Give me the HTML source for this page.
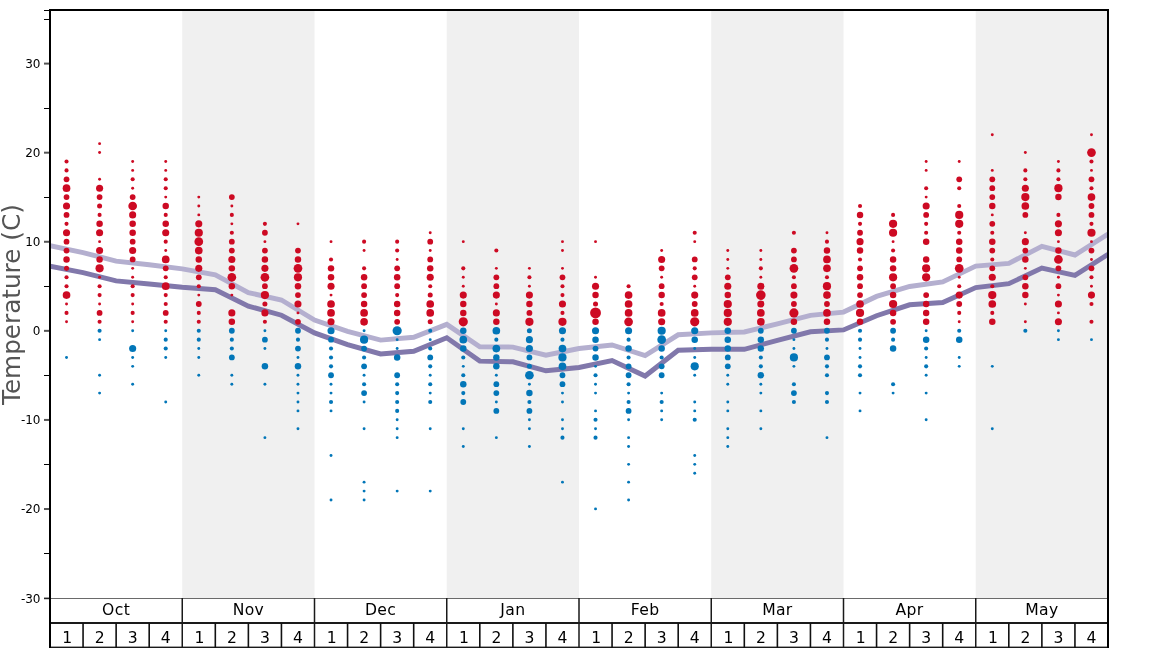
<!DOCTYPE html>
<html><head><meta charset="utf-8"><title>Temperature</title>
<style>html,body{margin:0;padding:0;background:#fff}body{width:1168px;height:648px;overflow:hidden}</style></head>
<body>
<svg width="1168" height="648" viewBox="0 0 1168 648" style="display:block" font-family="'DejaVu Sans', 'Liberation Sans', sans-serif">
<rect width="1168" height="648" fill="#fff"/>
<rect x="182.25" y="10.0" width="132.25" height="588.10" fill="#f0f0f0"/>
<rect x="446.75" y="10.0" width="132.25" height="588.10" fill="#f0f0f0"/>
<rect x="711.25" y="10.0" width="132.25" height="588.10" fill="#f0f0f0"/>
<rect x="975.75" y="10.0" width="132.25" height="588.10" fill="#f0f0f0"/>
<clipPath id="c"><rect x="50" y="10" width="1058" height="588.1"/></clipPath>
<polyline clip-path="url(#c)" points="50.00,245.6 83.06,252.6 116.12,261.1 149.19,264.8 182.25,268.9 215.31,274.9 248.38,292.6 281.44,300.0 314.50,320.0 347.56,331.4 380.62,340.1 413.69,337.3 446.75,324.4 479.81,346.7 512.88,347.1 545.94,355.2 579.00,348.5 612.06,345.0 645.12,355.5 678.19,334.8 711.25,332.9 744.31,332.0 777.38,323.9 810.44,315.4 843.50,312.1 876.56,296.4 909.62,286.5 942.69,281.9 975.75,266.1 1008.81,263.4 1041.88,246.3 1074.94,255.0 1108.00,234.0" fill="none" stroke="#b4afcf" stroke-width="4.95" stroke-linejoin="miter" stroke-linecap="butt"/>
<polyline clip-path="url(#c)" points="50.00,266.2 83.06,272.6 116.12,280.9 149.19,284.0 182.25,287.3 215.31,289.8 248.38,306.1 281.44,315.2 314.50,332.9 347.56,344.6 380.62,354.0 413.69,351.2 446.75,337.8 479.81,361.1 512.88,361.8 545.94,370.8 579.00,367.5 612.06,360.5 645.12,376.0 678.19,350.3 711.25,349.2 744.31,349.3 777.38,340.3 810.44,331.8 843.50,329.9 876.56,315.7 909.62,304.8 942.69,302.5 975.75,287.6 1008.81,283.7 1041.88,268.1 1074.94,275.3 1108.00,254.4" fill="none" stroke="#8178ab" stroke-width="4.95" stroke-linejoin="miter" stroke-linecap="butt"/>
<g fill="#cd0a23">
<circle cx="66.53" cy="161.47" r="2.05"/>
<circle cx="66.53" cy="170.38" r="2.05"/>
<circle cx="66.53" cy="179.29" r="2.90"/>
<circle cx="66.53" cy="188.20" r="3.84"/>
<circle cx="66.53" cy="197.11" r="2.90"/>
<circle cx="66.53" cy="206.01" r="3.55"/>
<circle cx="66.53" cy="214.92" r="2.90"/>
<circle cx="66.53" cy="223.83" r="2.05"/>
<circle cx="66.53" cy="232.74" r="3.55"/>
<circle cx="66.53" cy="241.65" r="2.90"/>
<circle cx="66.53" cy="250.56" r="2.90"/>
<circle cx="66.53" cy="259.46" r="3.24"/>
<circle cx="66.53" cy="268.37" r="2.51"/>
<circle cx="66.53" cy="277.28" r="2.05"/>
<circle cx="66.53" cy="286.19" r="2.05"/>
<circle cx="66.53" cy="295.10" r="3.84"/>
<circle cx="66.53" cy="304.00" r="1.45"/>
<circle cx="66.53" cy="312.91" r="2.05"/>
<circle cx="66.53" cy="321.82" r="1.45"/>
<circle cx="99.59" cy="143.66" r="1.45"/>
<circle cx="99.59" cy="152.56" r="1.45"/>
<circle cx="99.59" cy="179.29" r="1.45"/>
<circle cx="99.59" cy="188.20" r="3.55"/>
<circle cx="99.59" cy="197.11" r="2.90"/>
<circle cx="99.59" cy="206.01" r="2.51"/>
<circle cx="99.59" cy="214.92" r="2.05"/>
<circle cx="99.59" cy="223.83" r="3.24"/>
<circle cx="99.59" cy="232.74" r="3.55"/>
<circle cx="99.59" cy="241.65" r="1.45"/>
<circle cx="99.59" cy="250.56" r="3.55"/>
<circle cx="99.59" cy="259.46" r="3.24"/>
<circle cx="99.59" cy="268.37" r="4.10"/>
<circle cx="99.59" cy="277.28" r="1.45"/>
<circle cx="99.59" cy="286.19" r="2.05"/>
<circle cx="99.59" cy="295.10" r="2.05"/>
<circle cx="99.59" cy="304.00" r="1.45"/>
<circle cx="99.59" cy="312.91" r="2.90"/>
<circle cx="99.59" cy="321.82" r="2.05"/>
<circle cx="132.66" cy="161.47" r="1.45"/>
<circle cx="132.66" cy="170.38" r="1.45"/>
<circle cx="132.66" cy="179.29" r="2.05"/>
<circle cx="132.66" cy="188.20" r="1.45"/>
<circle cx="132.66" cy="197.11" r="2.90"/>
<circle cx="132.66" cy="206.01" r="4.35"/>
<circle cx="132.66" cy="214.92" r="3.55"/>
<circle cx="132.66" cy="223.83" r="3.24"/>
<circle cx="132.66" cy="232.74" r="3.24"/>
<circle cx="132.66" cy="241.65" r="2.90"/>
<circle cx="132.66" cy="250.56" r="3.55"/>
<circle cx="132.66" cy="259.46" r="2.90"/>
<circle cx="132.66" cy="268.37" r="1.45"/>
<circle cx="132.66" cy="277.28" r="1.45"/>
<circle cx="132.66" cy="286.19" r="2.05"/>
<circle cx="132.66" cy="295.10" r="2.05"/>
<circle cx="132.66" cy="304.00" r="1.45"/>
<circle cx="132.66" cy="312.91" r="2.05"/>
<circle cx="132.66" cy="321.82" r="1.45"/>
<circle cx="165.72" cy="161.47" r="1.45"/>
<circle cx="165.72" cy="170.38" r="1.45"/>
<circle cx="165.72" cy="179.29" r="2.05"/>
<circle cx="165.72" cy="188.20" r="2.05"/>
<circle cx="165.72" cy="197.11" r="1.45"/>
<circle cx="165.72" cy="206.01" r="3.24"/>
<circle cx="165.72" cy="214.92" r="2.05"/>
<circle cx="165.72" cy="223.83" r="3.24"/>
<circle cx="165.72" cy="232.74" r="3.55"/>
<circle cx="165.72" cy="241.65" r="2.05"/>
<circle cx="165.72" cy="250.56" r="1.45"/>
<circle cx="165.72" cy="259.46" r="3.84"/>
<circle cx="165.72" cy="268.37" r="2.90"/>
<circle cx="165.72" cy="277.28" r="2.05"/>
<circle cx="165.72" cy="286.19" r="3.84"/>
<circle cx="165.72" cy="295.10" r="2.05"/>
<circle cx="165.72" cy="304.00" r="2.05"/>
<circle cx="165.72" cy="312.91" r="2.90"/>
<circle cx="165.72" cy="321.82" r="2.05"/>
<circle cx="198.78" cy="197.11" r="1.45"/>
<circle cx="198.78" cy="206.01" r="1.45"/>
<circle cx="198.78" cy="214.92" r="1.45"/>
<circle cx="198.78" cy="223.83" r="3.55"/>
<circle cx="198.78" cy="232.74" r="4.10"/>
<circle cx="198.78" cy="241.65" r="4.35"/>
<circle cx="198.78" cy="250.56" r="3.84"/>
<circle cx="198.78" cy="259.46" r="3.24"/>
<circle cx="198.78" cy="268.37" r="3.55"/>
<circle cx="198.78" cy="277.28" r="2.90"/>
<circle cx="198.78" cy="286.19" r="2.05"/>
<circle cx="198.78" cy="295.10" r="1.45"/>
<circle cx="198.78" cy="304.00" r="2.90"/>
<circle cx="198.78" cy="312.91" r="2.05"/>
<circle cx="198.78" cy="321.82" r="2.05"/>
<circle cx="231.84" cy="197.11" r="2.90"/>
<circle cx="231.84" cy="206.01" r="1.45"/>
<circle cx="231.84" cy="214.92" r="2.05"/>
<circle cx="231.84" cy="223.83" r="1.45"/>
<circle cx="231.84" cy="232.74" r="2.05"/>
<circle cx="231.84" cy="241.65" r="2.90"/>
<circle cx="231.84" cy="250.56" r="2.90"/>
<circle cx="231.84" cy="259.46" r="3.55"/>
<circle cx="231.84" cy="268.37" r="3.24"/>
<circle cx="231.84" cy="277.28" r="4.35"/>
<circle cx="231.84" cy="286.19" r="3.24"/>
<circle cx="231.84" cy="295.10" r="1.45"/>
<circle cx="231.84" cy="312.91" r="3.55"/>
<circle cx="231.84" cy="321.82" r="3.24"/>
<circle cx="264.91" cy="223.83" r="2.05"/>
<circle cx="264.91" cy="232.74" r="2.90"/>
<circle cx="264.91" cy="241.65" r="1.45"/>
<circle cx="264.91" cy="250.56" r="2.90"/>
<circle cx="264.91" cy="259.46" r="3.24"/>
<circle cx="264.91" cy="268.37" r="3.55"/>
<circle cx="264.91" cy="277.28" r="4.35"/>
<circle cx="264.91" cy="286.19" r="2.90"/>
<circle cx="264.91" cy="295.10" r="4.10"/>
<circle cx="264.91" cy="304.00" r="2.51"/>
<circle cx="264.91" cy="312.91" r="3.55"/>
<circle cx="264.91" cy="321.82" r="2.05"/>
<circle cx="297.97" cy="223.83" r="1.45"/>
<circle cx="297.97" cy="250.56" r="2.90"/>
<circle cx="297.97" cy="259.46" r="3.24"/>
<circle cx="297.97" cy="268.37" r="4.35"/>
<circle cx="297.97" cy="277.28" r="4.10"/>
<circle cx="297.97" cy="286.19" r="3.24"/>
<circle cx="297.97" cy="295.10" r="2.90"/>
<circle cx="297.97" cy="304.00" r="3.55"/>
<circle cx="297.97" cy="312.91" r="1.45"/>
<circle cx="297.97" cy="321.82" r="2.90"/>
<circle cx="331.03" cy="241.65" r="1.45"/>
<circle cx="331.03" cy="259.46" r="2.05"/>
<circle cx="331.03" cy="268.37" r="3.24"/>
<circle cx="331.03" cy="277.28" r="3.24"/>
<circle cx="331.03" cy="286.19" r="3.55"/>
<circle cx="331.03" cy="295.10" r="1.45"/>
<circle cx="331.03" cy="304.00" r="3.84"/>
<circle cx="331.03" cy="312.91" r="3.84"/>
<circle cx="331.03" cy="321.82" r="3.55"/>
<circle cx="364.09" cy="241.65" r="2.05"/>
<circle cx="364.09" cy="250.56" r="1.45"/>
<circle cx="364.09" cy="268.37" r="2.05"/>
<circle cx="364.09" cy="277.28" r="3.24"/>
<circle cx="364.09" cy="286.19" r="2.90"/>
<circle cx="364.09" cy="295.10" r="2.90"/>
<circle cx="364.09" cy="304.00" r="3.24"/>
<circle cx="364.09" cy="312.91" r="3.84"/>
<circle cx="364.09" cy="321.82" r="3.84"/>
<circle cx="397.16" cy="241.65" r="2.05"/>
<circle cx="397.16" cy="250.56" r="2.05"/>
<circle cx="397.16" cy="259.46" r="1.45"/>
<circle cx="397.16" cy="268.37" r="2.90"/>
<circle cx="397.16" cy="277.28" r="3.24"/>
<circle cx="397.16" cy="286.19" r="2.90"/>
<circle cx="397.16" cy="295.10" r="2.05"/>
<circle cx="397.16" cy="304.00" r="3.24"/>
<circle cx="397.16" cy="312.91" r="3.24"/>
<circle cx="397.16" cy="321.82" r="2.90"/>
<circle cx="430.22" cy="232.74" r="1.45"/>
<circle cx="430.22" cy="241.65" r="2.90"/>
<circle cx="430.22" cy="250.56" r="1.45"/>
<circle cx="430.22" cy="259.46" r="2.90"/>
<circle cx="430.22" cy="268.37" r="3.24"/>
<circle cx="430.22" cy="277.28" r="3.55"/>
<circle cx="430.22" cy="286.19" r="2.05"/>
<circle cx="430.22" cy="295.10" r="2.51"/>
<circle cx="430.22" cy="304.00" r="3.84"/>
<circle cx="430.22" cy="312.91" r="3.84"/>
<circle cx="430.22" cy="321.82" r="2.51"/>
<circle cx="463.28" cy="241.65" r="1.45"/>
<circle cx="463.28" cy="268.37" r="2.05"/>
<circle cx="463.28" cy="277.28" r="1.45"/>
<circle cx="463.28" cy="286.19" r="1.45"/>
<circle cx="463.28" cy="295.10" r="3.55"/>
<circle cx="463.28" cy="304.00" r="3.24"/>
<circle cx="463.28" cy="312.91" r="3.24"/>
<circle cx="463.28" cy="321.82" r="4.59"/>
<circle cx="496.34" cy="250.56" r="2.05"/>
<circle cx="496.34" cy="268.37" r="1.45"/>
<circle cx="496.34" cy="277.28" r="2.90"/>
<circle cx="496.34" cy="286.19" r="2.90"/>
<circle cx="496.34" cy="295.10" r="3.55"/>
<circle cx="496.34" cy="304.00" r="1.45"/>
<circle cx="496.34" cy="312.91" r="3.55"/>
<circle cx="496.34" cy="321.82" r="3.24"/>
<circle cx="529.41" cy="268.37" r="1.45"/>
<circle cx="529.41" cy="277.28" r="2.05"/>
<circle cx="529.41" cy="286.19" r="1.45"/>
<circle cx="529.41" cy="295.10" r="3.55"/>
<circle cx="529.41" cy="304.00" r="3.24"/>
<circle cx="529.41" cy="312.91" r="2.90"/>
<circle cx="529.41" cy="321.82" r="4.10"/>
<circle cx="562.47" cy="241.65" r="1.45"/>
<circle cx="562.47" cy="250.56" r="1.45"/>
<circle cx="562.47" cy="268.37" r="1.45"/>
<circle cx="562.47" cy="277.28" r="2.90"/>
<circle cx="562.47" cy="286.19" r="2.05"/>
<circle cx="562.47" cy="295.10" r="2.05"/>
<circle cx="562.47" cy="304.00" r="3.55"/>
<circle cx="562.47" cy="312.91" r="2.05"/>
<circle cx="562.47" cy="321.82" r="4.10"/>
<circle cx="595.53" cy="241.65" r="1.45"/>
<circle cx="595.53" cy="277.28" r="1.45"/>
<circle cx="595.53" cy="286.19" r="3.55"/>
<circle cx="595.53" cy="295.10" r="3.24"/>
<circle cx="595.53" cy="304.00" r="2.51"/>
<circle cx="595.53" cy="312.91" r="5.43"/>
<circle cx="595.53" cy="321.82" r="3.24"/>
<circle cx="628.59" cy="286.19" r="2.05"/>
<circle cx="628.59" cy="295.10" r="3.84"/>
<circle cx="628.59" cy="304.00" r="3.84"/>
<circle cx="628.59" cy="312.91" r="3.84"/>
<circle cx="628.59" cy="321.82" r="4.35"/>
<circle cx="661.66" cy="250.56" r="1.45"/>
<circle cx="661.66" cy="259.46" r="3.55"/>
<circle cx="661.66" cy="268.37" r="2.90"/>
<circle cx="661.66" cy="277.28" r="1.45"/>
<circle cx="661.66" cy="286.19" r="2.90"/>
<circle cx="661.66" cy="295.10" r="3.24"/>
<circle cx="661.66" cy="304.00" r="2.05"/>
<circle cx="661.66" cy="312.91" r="3.84"/>
<circle cx="661.66" cy="321.82" r="3.55"/>
<circle cx="694.72" cy="232.74" r="2.05"/>
<circle cx="694.72" cy="241.65" r="1.45"/>
<circle cx="694.72" cy="259.46" r="2.90"/>
<circle cx="694.72" cy="268.37" r="2.05"/>
<circle cx="694.72" cy="277.28" r="2.90"/>
<circle cx="694.72" cy="286.19" r="1.45"/>
<circle cx="694.72" cy="295.10" r="3.55"/>
<circle cx="694.72" cy="304.00" r="2.90"/>
<circle cx="694.72" cy="312.91" r="3.84"/>
<circle cx="694.72" cy="321.82" r="4.59"/>
<circle cx="727.78" cy="250.56" r="1.45"/>
<circle cx="727.78" cy="259.46" r="1.45"/>
<circle cx="727.78" cy="268.37" r="1.45"/>
<circle cx="727.78" cy="277.28" r="2.90"/>
<circle cx="727.78" cy="286.19" r="3.55"/>
<circle cx="727.78" cy="295.10" r="3.24"/>
<circle cx="727.78" cy="304.00" r="4.10"/>
<circle cx="727.78" cy="312.91" r="4.10"/>
<circle cx="727.78" cy="321.82" r="4.10"/>
<circle cx="760.84" cy="250.56" r="1.45"/>
<circle cx="760.84" cy="259.46" r="1.45"/>
<circle cx="760.84" cy="268.37" r="2.05"/>
<circle cx="760.84" cy="277.28" r="1.45"/>
<circle cx="760.84" cy="286.19" r="3.55"/>
<circle cx="760.84" cy="295.10" r="4.81"/>
<circle cx="760.84" cy="304.00" r="3.55"/>
<circle cx="760.84" cy="312.91" r="3.84"/>
<circle cx="760.84" cy="321.82" r="3.84"/>
<circle cx="793.91" cy="232.74" r="2.05"/>
<circle cx="793.91" cy="250.56" r="2.90"/>
<circle cx="793.91" cy="259.46" r="2.90"/>
<circle cx="793.91" cy="268.37" r="4.35"/>
<circle cx="793.91" cy="277.28" r="2.05"/>
<circle cx="793.91" cy="286.19" r="2.90"/>
<circle cx="793.91" cy="295.10" r="3.55"/>
<circle cx="793.91" cy="304.00" r="2.90"/>
<circle cx="793.91" cy="312.91" r="4.59"/>
<circle cx="793.91" cy="321.82" r="3.24"/>
<circle cx="826.97" cy="232.74" r="1.45"/>
<circle cx="826.97" cy="241.65" r="2.05"/>
<circle cx="826.97" cy="250.56" r="3.24"/>
<circle cx="826.97" cy="259.46" r="3.84"/>
<circle cx="826.97" cy="268.37" r="3.84"/>
<circle cx="826.97" cy="277.28" r="2.05"/>
<circle cx="826.97" cy="286.19" r="4.10"/>
<circle cx="826.97" cy="295.10" r="3.84"/>
<circle cx="826.97" cy="304.00" r="2.90"/>
<circle cx="826.97" cy="312.91" r="3.84"/>
<circle cx="826.97" cy="321.82" r="3.24"/>
<circle cx="860.03" cy="206.01" r="2.05"/>
<circle cx="860.03" cy="214.92" r="3.24"/>
<circle cx="860.03" cy="223.83" r="2.05"/>
<circle cx="860.03" cy="232.74" r="2.90"/>
<circle cx="860.03" cy="241.65" r="3.55"/>
<circle cx="860.03" cy="250.56" r="3.24"/>
<circle cx="860.03" cy="259.46" r="2.05"/>
<circle cx="860.03" cy="268.37" r="2.90"/>
<circle cx="860.03" cy="277.28" r="3.24"/>
<circle cx="860.03" cy="286.19" r="2.90"/>
<circle cx="860.03" cy="295.10" r="2.90"/>
<circle cx="860.03" cy="304.00" r="3.84"/>
<circle cx="860.03" cy="312.91" r="4.10"/>
<circle cx="860.03" cy="321.82" r="3.24"/>
<circle cx="893.09" cy="214.92" r="2.05"/>
<circle cx="893.09" cy="223.83" r="4.10"/>
<circle cx="893.09" cy="232.74" r="4.10"/>
<circle cx="893.09" cy="241.65" r="1.45"/>
<circle cx="893.09" cy="250.56" r="2.05"/>
<circle cx="893.09" cy="259.46" r="3.24"/>
<circle cx="893.09" cy="268.37" r="3.24"/>
<circle cx="893.09" cy="277.28" r="4.10"/>
<circle cx="893.09" cy="286.19" r="2.90"/>
<circle cx="893.09" cy="295.10" r="3.24"/>
<circle cx="893.09" cy="304.00" r="4.10"/>
<circle cx="893.09" cy="312.91" r="3.24"/>
<circle cx="893.09" cy="321.82" r="2.90"/>
<circle cx="926.16" cy="161.47" r="1.45"/>
<circle cx="926.16" cy="170.38" r="1.45"/>
<circle cx="926.16" cy="188.20" r="2.05"/>
<circle cx="926.16" cy="197.11" r="1.45"/>
<circle cx="926.16" cy="206.01" r="3.55"/>
<circle cx="926.16" cy="214.92" r="2.90"/>
<circle cx="926.16" cy="223.83" r="2.05"/>
<circle cx="926.16" cy="232.74" r="2.05"/>
<circle cx="926.16" cy="241.65" r="3.24"/>
<circle cx="926.16" cy="259.46" r="3.24"/>
<circle cx="926.16" cy="268.37" r="4.10"/>
<circle cx="926.16" cy="277.28" r="4.10"/>
<circle cx="926.16" cy="295.10" r="2.90"/>
<circle cx="926.16" cy="304.00" r="3.24"/>
<circle cx="926.16" cy="312.91" r="3.24"/>
<circle cx="926.16" cy="321.82" r="3.24"/>
<circle cx="959.22" cy="161.47" r="1.45"/>
<circle cx="959.22" cy="179.29" r="2.90"/>
<circle cx="959.22" cy="188.20" r="2.05"/>
<circle cx="959.22" cy="206.01" r="2.05"/>
<circle cx="959.22" cy="214.92" r="4.10"/>
<circle cx="959.22" cy="223.83" r="4.10"/>
<circle cx="959.22" cy="232.74" r="2.05"/>
<circle cx="959.22" cy="241.65" r="3.24"/>
<circle cx="959.22" cy="250.56" r="3.24"/>
<circle cx="959.22" cy="259.46" r="2.90"/>
<circle cx="959.22" cy="268.37" r="4.35"/>
<circle cx="959.22" cy="277.28" r="1.45"/>
<circle cx="959.22" cy="286.19" r="2.05"/>
<circle cx="959.22" cy="295.10" r="3.55"/>
<circle cx="959.22" cy="304.00" r="2.90"/>
<circle cx="959.22" cy="312.91" r="2.05"/>
<circle cx="959.22" cy="321.82" r="1.45"/>
<circle cx="992.28" cy="134.75" r="1.45"/>
<circle cx="992.28" cy="170.38" r="1.45"/>
<circle cx="992.28" cy="179.29" r="2.90"/>
<circle cx="992.28" cy="188.20" r="2.90"/>
<circle cx="992.28" cy="197.11" r="2.90"/>
<circle cx="992.28" cy="206.01" r="3.24"/>
<circle cx="992.28" cy="214.92" r="1.45"/>
<circle cx="992.28" cy="223.83" r="2.90"/>
<circle cx="992.28" cy="232.74" r="2.05"/>
<circle cx="992.28" cy="241.65" r="3.24"/>
<circle cx="992.28" cy="250.56" r="2.90"/>
<circle cx="992.28" cy="259.46" r="2.05"/>
<circle cx="992.28" cy="268.37" r="2.90"/>
<circle cx="992.28" cy="277.28" r="3.55"/>
<circle cx="992.28" cy="286.19" r="2.05"/>
<circle cx="992.28" cy="295.10" r="4.10"/>
<circle cx="992.28" cy="304.00" r="3.84"/>
<circle cx="992.28" cy="312.91" r="2.05"/>
<circle cx="992.28" cy="321.82" r="3.24"/>
<circle cx="1025.34" cy="152.56" r="1.45"/>
<circle cx="1025.34" cy="170.38" r="2.05"/>
<circle cx="1025.34" cy="179.29" r="2.05"/>
<circle cx="1025.34" cy="188.20" r="3.55"/>
<circle cx="1025.34" cy="197.11" r="4.10"/>
<circle cx="1025.34" cy="206.01" r="3.84"/>
<circle cx="1025.34" cy="214.92" r="2.90"/>
<circle cx="1025.34" cy="232.74" r="1.45"/>
<circle cx="1025.34" cy="241.65" r="3.55"/>
<circle cx="1025.34" cy="250.56" r="2.90"/>
<circle cx="1025.34" cy="259.46" r="3.24"/>
<circle cx="1025.34" cy="268.37" r="1.45"/>
<circle cx="1025.34" cy="277.28" r="2.90"/>
<circle cx="1025.34" cy="286.19" r="3.24"/>
<circle cx="1025.34" cy="295.10" r="3.24"/>
<circle cx="1025.34" cy="304.00" r="1.45"/>
<circle cx="1025.34" cy="321.82" r="1.45"/>
<circle cx="1058.41" cy="161.47" r="1.45"/>
<circle cx="1058.41" cy="170.38" r="2.05"/>
<circle cx="1058.41" cy="179.29" r="2.05"/>
<circle cx="1058.41" cy="188.20" r="4.10"/>
<circle cx="1058.41" cy="197.11" r="3.24"/>
<circle cx="1058.41" cy="214.92" r="2.05"/>
<circle cx="1058.41" cy="223.83" r="3.55"/>
<circle cx="1058.41" cy="232.74" r="3.55"/>
<circle cx="1058.41" cy="241.65" r="1.45"/>
<circle cx="1058.41" cy="250.56" r="3.24"/>
<circle cx="1058.41" cy="259.46" r="4.35"/>
<circle cx="1058.41" cy="268.37" r="2.90"/>
<circle cx="1058.41" cy="277.28" r="1.45"/>
<circle cx="1058.41" cy="286.19" r="2.90"/>
<circle cx="1058.41" cy="295.10" r="1.45"/>
<circle cx="1058.41" cy="304.00" r="3.55"/>
<circle cx="1058.41" cy="312.91" r="1.45"/>
<circle cx="1058.41" cy="321.82" r="3.55"/>
<circle cx="1091.47" cy="134.75" r="1.45"/>
<circle cx="1091.47" cy="152.56" r="4.35"/>
<circle cx="1091.47" cy="161.47" r="2.05"/>
<circle cx="1091.47" cy="170.38" r="1.45"/>
<circle cx="1091.47" cy="179.29" r="2.90"/>
<circle cx="1091.47" cy="188.20" r="2.05"/>
<circle cx="1091.47" cy="197.11" r="3.84"/>
<circle cx="1091.47" cy="206.01" r="2.90"/>
<circle cx="1091.47" cy="214.92" r="2.90"/>
<circle cx="1091.47" cy="223.83" r="2.05"/>
<circle cx="1091.47" cy="232.74" r="4.10"/>
<circle cx="1091.47" cy="241.65" r="1.45"/>
<circle cx="1091.47" cy="250.56" r="2.90"/>
<circle cx="1091.47" cy="259.46" r="1.45"/>
<circle cx="1091.47" cy="268.37" r="2.90"/>
<circle cx="1091.47" cy="277.28" r="2.05"/>
<circle cx="1091.47" cy="286.19" r="1.45"/>
<circle cx="1091.47" cy="295.10" r="3.55"/>
<circle cx="1091.47" cy="304.00" r="2.05"/>
<circle cx="1091.47" cy="321.82" r="2.05"/>
</g>
<g fill="#0276b8">
<circle cx="66.53" cy="357.46" r="1.45"/>
<circle cx="99.59" cy="330.73" r="2.05"/>
<circle cx="99.59" cy="339.64" r="1.45"/>
<circle cx="99.59" cy="375.27" r="1.45"/>
<circle cx="99.59" cy="393.09" r="1.45"/>
<circle cx="132.66" cy="330.73" r="1.45"/>
<circle cx="132.66" cy="348.55" r="3.55"/>
<circle cx="132.66" cy="357.46" r="1.45"/>
<circle cx="132.66" cy="366.36" r="1.45"/>
<circle cx="132.66" cy="384.18" r="1.45"/>
<circle cx="165.72" cy="330.73" r="1.45"/>
<circle cx="165.72" cy="339.64" r="2.05"/>
<circle cx="165.72" cy="348.55" r="2.05"/>
<circle cx="165.72" cy="357.46" r="1.45"/>
<circle cx="165.72" cy="402.00" r="1.45"/>
<circle cx="198.78" cy="330.73" r="2.05"/>
<circle cx="198.78" cy="339.64" r="2.05"/>
<circle cx="198.78" cy="348.55" r="1.45"/>
<circle cx="198.78" cy="357.46" r="1.45"/>
<circle cx="198.78" cy="375.27" r="1.45"/>
<circle cx="231.84" cy="330.73" r="2.90"/>
<circle cx="231.84" cy="339.64" r="2.05"/>
<circle cx="231.84" cy="348.55" r="2.05"/>
<circle cx="231.84" cy="357.46" r="2.90"/>
<circle cx="231.84" cy="375.27" r="1.45"/>
<circle cx="231.84" cy="384.18" r="1.45"/>
<circle cx="264.91" cy="330.73" r="1.45"/>
<circle cx="264.91" cy="339.64" r="2.90"/>
<circle cx="264.91" cy="348.55" r="1.45"/>
<circle cx="264.91" cy="366.36" r="3.24"/>
<circle cx="264.91" cy="384.18" r="1.45"/>
<circle cx="264.91" cy="437.63" r="1.45"/>
<circle cx="297.97" cy="330.73" r="2.90"/>
<circle cx="297.97" cy="339.64" r="2.05"/>
<circle cx="297.97" cy="348.55" r="2.90"/>
<circle cx="297.97" cy="357.46" r="1.45"/>
<circle cx="297.97" cy="366.36" r="3.24"/>
<circle cx="297.97" cy="375.27" r="1.45"/>
<circle cx="297.97" cy="384.18" r="1.45"/>
<circle cx="297.97" cy="393.09" r="1.45"/>
<circle cx="297.97" cy="402.00" r="1.45"/>
<circle cx="297.97" cy="410.91" r="1.45"/>
<circle cx="297.97" cy="428.72" r="1.45"/>
<circle cx="331.03" cy="330.73" r="3.55"/>
<circle cx="331.03" cy="339.64" r="2.90"/>
<circle cx="331.03" cy="348.55" r="2.05"/>
<circle cx="331.03" cy="357.46" r="2.05"/>
<circle cx="331.03" cy="366.36" r="2.05"/>
<circle cx="331.03" cy="375.27" r="2.90"/>
<circle cx="331.03" cy="384.18" r="1.45"/>
<circle cx="331.03" cy="393.09" r="1.45"/>
<circle cx="331.03" cy="402.00" r="2.05"/>
<circle cx="331.03" cy="410.91" r="1.45"/>
<circle cx="331.03" cy="455.45" r="1.45"/>
<circle cx="331.03" cy="499.99" r="1.45"/>
<circle cx="364.09" cy="330.73" r="1.45"/>
<circle cx="364.09" cy="339.64" r="4.10"/>
<circle cx="364.09" cy="348.55" r="2.90"/>
<circle cx="364.09" cy="357.46" r="2.05"/>
<circle cx="364.09" cy="366.36" r="2.90"/>
<circle cx="364.09" cy="375.27" r="1.45"/>
<circle cx="364.09" cy="384.18" r="2.05"/>
<circle cx="364.09" cy="393.09" r="2.90"/>
<circle cx="364.09" cy="402.00" r="1.45"/>
<circle cx="364.09" cy="428.72" r="1.45"/>
<circle cx="364.09" cy="482.17" r="1.45"/>
<circle cx="364.09" cy="491.08" r="1.45"/>
<circle cx="364.09" cy="499.99" r="1.45"/>
<circle cx="397.16" cy="330.73" r="4.59"/>
<circle cx="397.16" cy="339.64" r="1.45"/>
<circle cx="397.16" cy="348.55" r="1.45"/>
<circle cx="397.16" cy="357.46" r="3.24"/>
<circle cx="397.16" cy="375.27" r="2.90"/>
<circle cx="397.16" cy="384.18" r="2.05"/>
<circle cx="397.16" cy="393.09" r="2.05"/>
<circle cx="397.16" cy="402.00" r="2.05"/>
<circle cx="397.16" cy="410.91" r="2.05"/>
<circle cx="397.16" cy="419.81" r="1.45"/>
<circle cx="397.16" cy="428.72" r="1.45"/>
<circle cx="397.16" cy="437.63" r="1.45"/>
<circle cx="397.16" cy="491.08" r="1.45"/>
<circle cx="430.22" cy="330.73" r="2.05"/>
<circle cx="430.22" cy="339.64" r="1.45"/>
<circle cx="430.22" cy="348.55" r="2.05"/>
<circle cx="430.22" cy="357.46" r="2.90"/>
<circle cx="430.22" cy="366.36" r="2.05"/>
<circle cx="430.22" cy="375.27" r="1.45"/>
<circle cx="430.22" cy="384.18" r="2.05"/>
<circle cx="430.22" cy="393.09" r="1.45"/>
<circle cx="430.22" cy="402.00" r="2.05"/>
<circle cx="430.22" cy="428.72" r="1.45"/>
<circle cx="430.22" cy="491.08" r="1.45"/>
<circle cx="463.28" cy="330.73" r="3.24"/>
<circle cx="463.28" cy="339.64" r="3.84"/>
<circle cx="463.28" cy="348.55" r="3.24"/>
<circle cx="463.28" cy="357.46" r="2.05"/>
<circle cx="463.28" cy="366.36" r="1.45"/>
<circle cx="463.28" cy="375.27" r="2.05"/>
<circle cx="463.28" cy="384.18" r="3.24"/>
<circle cx="463.28" cy="393.09" r="2.05"/>
<circle cx="463.28" cy="402.00" r="2.90"/>
<circle cx="463.28" cy="428.72" r="1.45"/>
<circle cx="463.28" cy="446.54" r="1.45"/>
<circle cx="496.34" cy="330.73" r="3.84"/>
<circle cx="496.34" cy="339.64" r="2.05"/>
<circle cx="496.34" cy="348.55" r="3.84"/>
<circle cx="496.34" cy="357.46" r="3.24"/>
<circle cx="496.34" cy="366.36" r="3.24"/>
<circle cx="496.34" cy="375.27" r="1.45"/>
<circle cx="496.34" cy="384.18" r="2.90"/>
<circle cx="496.34" cy="393.09" r="2.90"/>
<circle cx="496.34" cy="402.00" r="1.45"/>
<circle cx="496.34" cy="410.91" r="2.90"/>
<circle cx="496.34" cy="437.63" r="1.45"/>
<circle cx="529.41" cy="330.73" r="2.51"/>
<circle cx="529.41" cy="339.64" r="3.55"/>
<circle cx="529.41" cy="348.55" r="3.55"/>
<circle cx="529.41" cy="357.46" r="2.90"/>
<circle cx="529.41" cy="366.36" r="2.51"/>
<circle cx="529.41" cy="375.27" r="4.35"/>
<circle cx="529.41" cy="384.18" r="1.45"/>
<circle cx="529.41" cy="393.09" r="3.24"/>
<circle cx="529.41" cy="402.00" r="2.05"/>
<circle cx="529.41" cy="410.91" r="2.90"/>
<circle cx="529.41" cy="419.81" r="1.45"/>
<circle cx="529.41" cy="428.72" r="1.45"/>
<circle cx="529.41" cy="446.54" r="1.45"/>
<circle cx="562.47" cy="330.73" r="3.55"/>
<circle cx="562.47" cy="339.64" r="2.05"/>
<circle cx="562.47" cy="348.55" r="3.84"/>
<circle cx="562.47" cy="357.46" r="4.10"/>
<circle cx="562.47" cy="366.36" r="3.84"/>
<circle cx="562.47" cy="375.27" r="2.90"/>
<circle cx="562.47" cy="384.18" r="2.90"/>
<circle cx="562.47" cy="393.09" r="1.45"/>
<circle cx="562.47" cy="402.00" r="1.45"/>
<circle cx="562.47" cy="419.81" r="1.45"/>
<circle cx="562.47" cy="428.72" r="1.45"/>
<circle cx="562.47" cy="437.63" r="2.05"/>
<circle cx="562.47" cy="482.17" r="1.45"/>
<circle cx="595.53" cy="330.73" r="3.55"/>
<circle cx="595.53" cy="339.64" r="3.24"/>
<circle cx="595.53" cy="348.55" r="2.90"/>
<circle cx="595.53" cy="357.46" r="3.24"/>
<circle cx="595.53" cy="366.36" r="1.45"/>
<circle cx="595.53" cy="375.27" r="2.05"/>
<circle cx="595.53" cy="384.18" r="1.45"/>
<circle cx="595.53" cy="393.09" r="1.45"/>
<circle cx="595.53" cy="410.91" r="1.45"/>
<circle cx="595.53" cy="419.81" r="2.05"/>
<circle cx="595.53" cy="428.72" r="1.45"/>
<circle cx="595.53" cy="437.63" r="2.05"/>
<circle cx="595.53" cy="508.90" r="1.45"/>
<circle cx="628.59" cy="330.73" r="3.55"/>
<circle cx="628.59" cy="339.64" r="2.05"/>
<circle cx="628.59" cy="348.55" r="3.24"/>
<circle cx="628.59" cy="357.46" r="2.05"/>
<circle cx="628.59" cy="366.36" r="2.90"/>
<circle cx="628.59" cy="375.27" r="2.90"/>
<circle cx="628.59" cy="384.18" r="2.05"/>
<circle cx="628.59" cy="393.09" r="1.45"/>
<circle cx="628.59" cy="402.00" r="2.05"/>
<circle cx="628.59" cy="410.91" r="2.90"/>
<circle cx="628.59" cy="419.81" r="1.45"/>
<circle cx="628.59" cy="437.63" r="1.45"/>
<circle cx="628.59" cy="446.54" r="1.45"/>
<circle cx="628.59" cy="464.36" r="1.45"/>
<circle cx="628.59" cy="482.17" r="1.45"/>
<circle cx="628.59" cy="499.99" r="1.45"/>
<circle cx="661.66" cy="330.73" r="4.10"/>
<circle cx="661.66" cy="339.64" r="4.35"/>
<circle cx="661.66" cy="348.55" r="3.24"/>
<circle cx="661.66" cy="357.46" r="2.05"/>
<circle cx="661.66" cy="366.36" r="2.90"/>
<circle cx="661.66" cy="375.27" r="2.90"/>
<circle cx="661.66" cy="393.09" r="1.45"/>
<circle cx="661.66" cy="402.00" r="2.05"/>
<circle cx="661.66" cy="410.91" r="1.45"/>
<circle cx="661.66" cy="419.81" r="1.45"/>
<circle cx="694.72" cy="330.73" r="3.55"/>
<circle cx="694.72" cy="339.64" r="3.24"/>
<circle cx="694.72" cy="348.55" r="1.45"/>
<circle cx="694.72" cy="357.46" r="1.45"/>
<circle cx="694.72" cy="366.36" r="4.10"/>
<circle cx="694.72" cy="375.27" r="1.45"/>
<circle cx="694.72" cy="402.00" r="1.45"/>
<circle cx="694.72" cy="410.91" r="1.45"/>
<circle cx="694.72" cy="419.81" r="2.05"/>
<circle cx="694.72" cy="455.45" r="1.45"/>
<circle cx="694.72" cy="464.36" r="1.45"/>
<circle cx="694.72" cy="473.26" r="1.45"/>
<circle cx="727.78" cy="330.73" r="3.24"/>
<circle cx="727.78" cy="339.64" r="3.24"/>
<circle cx="727.78" cy="348.55" r="3.24"/>
<circle cx="727.78" cy="357.46" r="2.90"/>
<circle cx="727.78" cy="366.36" r="2.90"/>
<circle cx="727.78" cy="375.27" r="1.45"/>
<circle cx="727.78" cy="384.18" r="1.45"/>
<circle cx="727.78" cy="402.00" r="1.45"/>
<circle cx="727.78" cy="410.91" r="1.45"/>
<circle cx="727.78" cy="428.72" r="1.45"/>
<circle cx="727.78" cy="437.63" r="1.45"/>
<circle cx="727.78" cy="446.54" r="1.45"/>
<circle cx="760.84" cy="330.73" r="2.90"/>
<circle cx="760.84" cy="339.64" r="3.24"/>
<circle cx="760.84" cy="348.55" r="3.24"/>
<circle cx="760.84" cy="357.46" r="2.05"/>
<circle cx="760.84" cy="366.36" r="2.05"/>
<circle cx="760.84" cy="375.27" r="3.24"/>
<circle cx="760.84" cy="384.18" r="1.45"/>
<circle cx="760.84" cy="393.09" r="1.45"/>
<circle cx="760.84" cy="410.91" r="1.45"/>
<circle cx="760.84" cy="428.72" r="1.45"/>
<circle cx="793.91" cy="330.73" r="2.90"/>
<circle cx="793.91" cy="339.64" r="1.45"/>
<circle cx="793.91" cy="348.55" r="1.45"/>
<circle cx="793.91" cy="357.46" r="4.10"/>
<circle cx="793.91" cy="366.36" r="1.45"/>
<circle cx="793.91" cy="384.18" r="2.05"/>
<circle cx="793.91" cy="393.09" r="2.90"/>
<circle cx="793.91" cy="402.00" r="2.05"/>
<circle cx="826.97" cy="330.73" r="2.90"/>
<circle cx="826.97" cy="339.64" r="2.05"/>
<circle cx="826.97" cy="348.55" r="1.45"/>
<circle cx="826.97" cy="357.46" r="2.90"/>
<circle cx="826.97" cy="366.36" r="2.05"/>
<circle cx="826.97" cy="375.27" r="2.05"/>
<circle cx="826.97" cy="393.09" r="2.05"/>
<circle cx="826.97" cy="402.00" r="2.05"/>
<circle cx="826.97" cy="437.63" r="1.45"/>
<circle cx="860.03" cy="330.73" r="2.05"/>
<circle cx="860.03" cy="339.64" r="2.05"/>
<circle cx="860.03" cy="348.55" r="1.45"/>
<circle cx="860.03" cy="357.46" r="1.45"/>
<circle cx="860.03" cy="366.36" r="2.05"/>
<circle cx="860.03" cy="375.27" r="2.05"/>
<circle cx="860.03" cy="393.09" r="1.45"/>
<circle cx="860.03" cy="410.91" r="1.45"/>
<circle cx="893.09" cy="330.73" r="2.90"/>
<circle cx="893.09" cy="339.64" r="2.05"/>
<circle cx="893.09" cy="348.55" r="3.24"/>
<circle cx="893.09" cy="384.18" r="2.05"/>
<circle cx="893.09" cy="393.09" r="1.45"/>
<circle cx="926.16" cy="330.73" r="1.45"/>
<circle cx="926.16" cy="339.64" r="3.24"/>
<circle cx="926.16" cy="348.55" r="2.05"/>
<circle cx="926.16" cy="357.46" r="1.45"/>
<circle cx="926.16" cy="366.36" r="2.05"/>
<circle cx="926.16" cy="375.27" r="1.45"/>
<circle cx="926.16" cy="393.09" r="1.45"/>
<circle cx="926.16" cy="419.81" r="1.45"/>
<circle cx="959.22" cy="330.73" r="2.05"/>
<circle cx="959.22" cy="339.64" r="3.24"/>
<circle cx="959.22" cy="357.46" r="1.45"/>
<circle cx="959.22" cy="366.36" r="1.45"/>
<circle cx="992.28" cy="366.36" r="1.45"/>
<circle cx="992.28" cy="428.72" r="1.45"/>
<circle cx="1025.34" cy="330.73" r="2.05"/>
<circle cx="1058.41" cy="330.73" r="1.45"/>
<circle cx="1058.41" cy="339.64" r="1.45"/>
<circle cx="1091.47" cy="339.64" r="1.45"/>
</g>
<rect x="50.0" y="598" width="1058.0" height="1" fill="#6a6a6a"/>
<rect x="50.0" y="622" width="1058.0" height="2" fill="#1a1a1a"/>
<rect x="50.0" y="646.6" width="1058.0" height="1.4" fill="#1a1a1a"/>
<rect x="82.26" y="623" width="1.6" height="25" fill="#111"/>
<rect x="115.33" y="623" width="1.6" height="25" fill="#111"/>
<rect x="148.39" y="623" width="1.6" height="25" fill="#111"/>
<rect x="181.50" y="598" width="1.5" height="50" fill="#1a1a1a"/>
<rect x="214.51" y="623" width="1.6" height="25" fill="#111"/>
<rect x="247.57" y="623" width="1.6" height="25" fill="#111"/>
<rect x="280.64" y="623" width="1.6" height="25" fill="#111"/>
<rect x="313.75" y="598" width="1.5" height="50" fill="#1a1a1a"/>
<rect x="346.76" y="623" width="1.6" height="25" fill="#111"/>
<rect x="379.82" y="623" width="1.6" height="25" fill="#111"/>
<rect x="412.89" y="623" width="1.6" height="25" fill="#111"/>
<rect x="446.00" y="598" width="1.5" height="50" fill="#1a1a1a"/>
<rect x="479.01" y="623" width="1.6" height="25" fill="#111"/>
<rect x="512.08" y="623" width="1.6" height="25" fill="#111"/>
<rect x="545.14" y="623" width="1.6" height="25" fill="#111"/>
<rect x="578.25" y="598" width="1.5" height="50" fill="#1a1a1a"/>
<rect x="611.26" y="623" width="1.6" height="25" fill="#111"/>
<rect x="644.33" y="623" width="1.6" height="25" fill="#111"/>
<rect x="677.39" y="623" width="1.6" height="25" fill="#111"/>
<rect x="710.50" y="598" width="1.5" height="50" fill="#1a1a1a"/>
<rect x="743.51" y="623" width="1.6" height="25" fill="#111"/>
<rect x="776.58" y="623" width="1.6" height="25" fill="#111"/>
<rect x="809.64" y="623" width="1.6" height="25" fill="#111"/>
<rect x="842.75" y="598" width="1.5" height="50" fill="#1a1a1a"/>
<rect x="875.76" y="623" width="1.6" height="25" fill="#111"/>
<rect x="908.83" y="623" width="1.6" height="25" fill="#111"/>
<rect x="941.89" y="623" width="1.6" height="25" fill="#111"/>
<rect x="975.00" y="598" width="1.5" height="50" fill="#1a1a1a"/>
<rect x="1008.01" y="623" width="1.6" height="25" fill="#111"/>
<rect x="1041.08" y="623" width="1.6" height="25" fill="#111"/>
<rect x="1074.14" y="623" width="1.6" height="25" fill="#111"/>
<rect x="49" y="9" width="2" height="639" fill="#000"/>
<rect x="1107" y="9" width="2" height="639" fill="#000"/>
<rect x="49" y="9" width="1060" height="2" fill="#000"/>
<rect x="44" y="597.6" width="5" height="1.6" fill="#222"/>
<text x="40.5" y="602.50" font-size="12" text-anchor="end" fill="#000">-30</text>
<rect x="44" y="508.02" width="5" height="2" fill="#555"/>
<text x="40.5" y="513.42" font-size="12" text-anchor="end" fill="#000">-20</text>
<rect x="44" y="418.93" width="5" height="2" fill="#555"/>
<text x="40.5" y="424.33" font-size="12" text-anchor="end" fill="#000">-10</text>
<rect x="44" y="329.85" width="5" height="2" fill="#555"/>
<text x="40.5" y="335.25" font-size="12" text-anchor="end" fill="#000">0</text>
<rect x="44" y="240.77" width="5" height="2" fill="#555"/>
<text x="40.5" y="246.17" font-size="12" text-anchor="end" fill="#000">10</text>
<rect x="44" y="151.68" width="5" height="2" fill="#555"/>
<text x="40.5" y="157.08" font-size="12" text-anchor="end" fill="#000">20</text>
<rect x="44" y="62.60" width="5" height="2" fill="#555"/>
<text x="40.5" y="68.00" font-size="12" text-anchor="end" fill="#000">30</text>
<rect x="44" y="553" width="5" height="1" fill="#000"/>
<rect x="44" y="464" width="5" height="1" fill="#000"/>
<rect x="44" y="375" width="5" height="1" fill="#000"/>
<rect x="44" y="286" width="5" height="1" fill="#000"/>
<rect x="44" y="197" width="5" height="1" fill="#000"/>
<rect x="44" y="108" width="5" height="1" fill="#000"/>
<rect x="44" y="19" width="5" height="1" fill="#000"/>
<rect x="44" y="10" width="5" height="1" fill="#000"/>
<text transform="translate(20,304.6) rotate(-90)" font-size="24.7" text-anchor="middle" fill="#555">Temperature (C)</text>
<text x="116.12" y="614.8" font-size="15.6" letter-spacing="0.35" text-anchor="middle" fill="#000">Oct</text>
<text x="248.38" y="614.8" font-size="15.6" letter-spacing="0.35" text-anchor="middle" fill="#000">Nov</text>
<text x="380.62" y="614.8" font-size="15.6" letter-spacing="0.35" text-anchor="middle" fill="#000">Dec</text>
<text x="512.88" y="614.8" font-size="15.6" letter-spacing="0.35" text-anchor="middle" fill="#000">Jan</text>
<text x="645.12" y="614.8" font-size="15.6" letter-spacing="0.35" text-anchor="middle" fill="#000">Feb</text>
<text x="777.38" y="614.8" font-size="15.6" letter-spacing="0.35" text-anchor="middle" fill="#000">Mar</text>
<text x="909.62" y="614.8" font-size="15.6" letter-spacing="0.35" text-anchor="middle" fill="#000">Apr</text>
<text x="1041.88" y="614.8" font-size="15.6" letter-spacing="0.35" text-anchor="middle" fill="#000">May</text>
<text x="67.33" y="642.8" font-size="15.6" text-anchor="middle" fill="#000">1</text>
<text x="99.69" y="642.8" font-size="15.6" text-anchor="middle" fill="#000">2</text>
<text x="132.76" y="642.8" font-size="15.6" text-anchor="middle" fill="#000">3</text>
<text x="165.82" y="642.8" font-size="15.6" text-anchor="middle" fill="#000">4</text>
<text x="199.58" y="642.8" font-size="15.6" text-anchor="middle" fill="#000">1</text>
<text x="231.94" y="642.8" font-size="15.6" text-anchor="middle" fill="#000">2</text>
<text x="265.01" y="642.8" font-size="15.6" text-anchor="middle" fill="#000">3</text>
<text x="298.07" y="642.8" font-size="15.6" text-anchor="middle" fill="#000">4</text>
<text x="331.83" y="642.8" font-size="15.6" text-anchor="middle" fill="#000">1</text>
<text x="364.19" y="642.8" font-size="15.6" text-anchor="middle" fill="#000">2</text>
<text x="397.26" y="642.8" font-size="15.6" text-anchor="middle" fill="#000">3</text>
<text x="430.32" y="642.8" font-size="15.6" text-anchor="middle" fill="#000">4</text>
<text x="464.08" y="642.8" font-size="15.6" text-anchor="middle" fill="#000">1</text>
<text x="496.44" y="642.8" font-size="15.6" text-anchor="middle" fill="#000">2</text>
<text x="529.51" y="642.8" font-size="15.6" text-anchor="middle" fill="#000">3</text>
<text x="562.57" y="642.8" font-size="15.6" text-anchor="middle" fill="#000">4</text>
<text x="596.33" y="642.8" font-size="15.6" text-anchor="middle" fill="#000">1</text>
<text x="628.69" y="642.8" font-size="15.6" text-anchor="middle" fill="#000">2</text>
<text x="661.76" y="642.8" font-size="15.6" text-anchor="middle" fill="#000">3</text>
<text x="694.82" y="642.8" font-size="15.6" text-anchor="middle" fill="#000">4</text>
<text x="728.58" y="642.8" font-size="15.6" text-anchor="middle" fill="#000">1</text>
<text x="760.94" y="642.8" font-size="15.6" text-anchor="middle" fill="#000">2</text>
<text x="794.01" y="642.8" font-size="15.6" text-anchor="middle" fill="#000">3</text>
<text x="827.07" y="642.8" font-size="15.6" text-anchor="middle" fill="#000">4</text>
<text x="860.83" y="642.8" font-size="15.6" text-anchor="middle" fill="#000">1</text>
<text x="893.19" y="642.8" font-size="15.6" text-anchor="middle" fill="#000">2</text>
<text x="926.26" y="642.8" font-size="15.6" text-anchor="middle" fill="#000">3</text>
<text x="959.32" y="642.8" font-size="15.6" text-anchor="middle" fill="#000">4</text>
<text x="993.08" y="642.8" font-size="15.6" text-anchor="middle" fill="#000">1</text>
<text x="1025.44" y="642.8" font-size="15.6" text-anchor="middle" fill="#000">2</text>
<text x="1058.51" y="642.8" font-size="15.6" text-anchor="middle" fill="#000">3</text>
<text x="1091.57" y="642.8" font-size="15.6" text-anchor="middle" fill="#000">4</text>
</svg>
</body></html>
